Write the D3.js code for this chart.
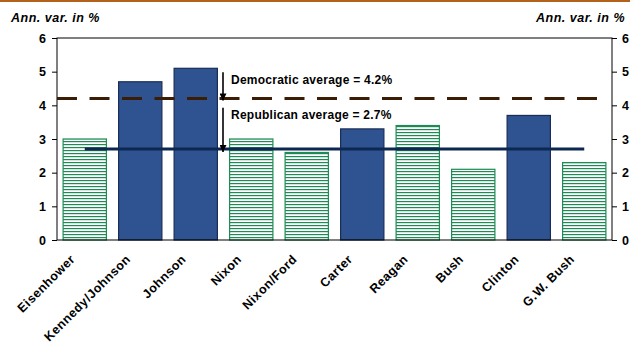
<!DOCTYPE html>
<html><head><meta charset="utf-8">
<script src="https://cdn.jsdelivr.net/npm/d3@7"></script>
<style>body{margin:0;background:#fff}svg{display:block;font-family:"Liberation Sans",Arial,sans-serif}</style>
</head><body><svg id="c" width="630" height="346"></svg>
<script>
const categories = ["Eisenhower","Kennedy/Johnson","Johnson","Nixon","Nixon/Ford","Carter","Reagan","Bush","Clinton","G.W. Bush"];
const values = [3.0,4.7,5.1,3.0,2.6,3.3,3.4,2.1,3.7,2.3];
const party = ["R","D","D","R","R","D","R","R","D","R"];
const yTicks = [0,1,2,3,4,5,6];
const demAvg = 4.2, repAvg = 2.7;
const axisTitle = "Ann. var. in %";

const svg = d3.select("#c");
const L=57,R=612,T=38,B=240;
const x = d3.scaleBand().domain(categories).range([L,R]).paddingInner(0.22).paddingOuter(0.11);
const y = d3.scaleLinear().domain([0,6]).range([B,T]);

const defs = svg.append("defs");
const pat = defs.append("pattern").attr("id","hatch").attr("patternUnits","userSpaceOnUse").attr("width",4).attr("height",3);
pat.append("rect").attr("width",4).attr("height",3).attr("fill","#fff");
pat.append("rect").attr("y",0).attr("width",4).attr("height",1.2).attr("fill","#1f8a55");

svg.append("rect").attr("x",0).attr("y",0).attr("width",630).attr("height",2).attr("fill","#b3621b");

// bars
svg.selectAll("rect.bar").data(categories).enter().append("rect")
  .attr("x",d=>x(d)).attr("width",x.bandwidth())
  .attr("y",(d,i)=>y(values[i])).attr("height",(d,i)=>B-y(values[i]))
  .attr("fill",(d,i)=>party[i]==="D"?"#2f5290":"url(#hatch)")
  .attr("stroke",(d,i)=>party[i]==="D"?"#1a2d55":"#1f8a55")
  .attr("stroke-width",1.2);

// plot frame
svg.append("rect").attr("x",L).attr("y",T).attr("width",R-L).attr("height",B-T).attr("fill","none").attr("stroke","#000").attr("stroke-width",1);

// averages
svg.append("line").attr("x1",L).attr("x2",R-4).attr("y1",y(demAvg)).attr("y2",y(demAvg))
  .attr("stroke","#3b1c05").attr("stroke-width",3).attr("stroke-dasharray","20,12.5");
svg.append("line").attr("x1",x(categories[0])+x.bandwidth()/2).attr("x2",x(categories[9])+x.bandwidth()/2)
  .attr("y1",y(repAvg)).attr("y2",y(repAvg)).attr("stroke","#0d2850").attr("stroke-width",3);

// axes
const yl = d3.axisLeft(y).tickValues(yTicks).tickSize(5).tickPadding(6).tickFormat(d3.format("d"));
const yr = d3.axisRight(y).tickValues(yTicks).tickSize(5).tickPadding(5).tickFormat(d3.format("d"));
const gl = svg.append("g").attr("transform",`translate(${L},0)`).call(yl);
const gr = svg.append("g").attr("transform",`translate(${R},0)`).call(yr);
[gl,gr].forEach(g=>{g.select(".domain").remove();g.selectAll("text").attr("font-size",12.5).attr("font-weight","bold").attr("fill","#000").attr("font-family","Liberation Sans, Arial");g.selectAll("line").attr("stroke","#000");});

// x labels
svg.selectAll("text.xl").data(categories).enter().append("text")
  .attr("transform",d=>`translate(${x(d)+x.bandwidth()/2-9},${B+20}) rotate(-45)`)
  .attr("text-anchor","end").attr("font-size",12.5).attr("font-weight","bold").attr("letter-spacing",0.5).text(d=>d);

// titles
svg.append("text").attr("x",11).attr("y",22).attr("font-size",12.5).attr("font-weight","bold").attr("font-style","italic").attr("letter-spacing",0.5).text(axisTitle);
svg.append("text").attr("x",625).attr("y",22).attr("text-anchor","end").attr("font-size",12.5).attr("font-weight","bold").attr("font-style","italic").attr("letter-spacing",0.5).text(axisTitle);

// arrows
defs.append("marker").attr("id","ah").attr("viewBox","0 0 10 10").attr("refX",10).attr("refY",5)
  .attr("markerUnits","userSpaceOnUse").attr("markerWidth",8).attr("markerHeight",7).attr("orient","auto")
  .append("path").attr("d","M0,0L10,5L0,10z").attr("fill","#000");
const ax = 223;
svg.append("line").attr("x1",ax).attr("x2",ax).attr("y1",y(4.98)).attr("y2",y(demAvg)+2).attr("stroke","#000").attr("stroke-width",1.6).attr("marker-end","url(#ah)");
svg.append("line").attr("x1",ax).attr("x2",ax).attr("y1",y(3.93)).attr("y2",y(repAvg)+3).attr("stroke","#000").attr("stroke-width",1.6).attr("marker-end","url(#ah)");
svg.append("text").attr("x",231).attr("y",y(4.62)).attr("font-size",12).attr("font-weight","bold").attr("letter-spacing",0.25).text("Democratic average = "+demAvg.toFixed(1)+"%");
svg.append("text").attr("x",231).attr("y",y(3.6)).attr("font-size",12).attr("font-weight","bold").attr("letter-spacing",0.25).text("Republican average = "+repAvg.toFixed(1)+"%");
</script></body></html>
